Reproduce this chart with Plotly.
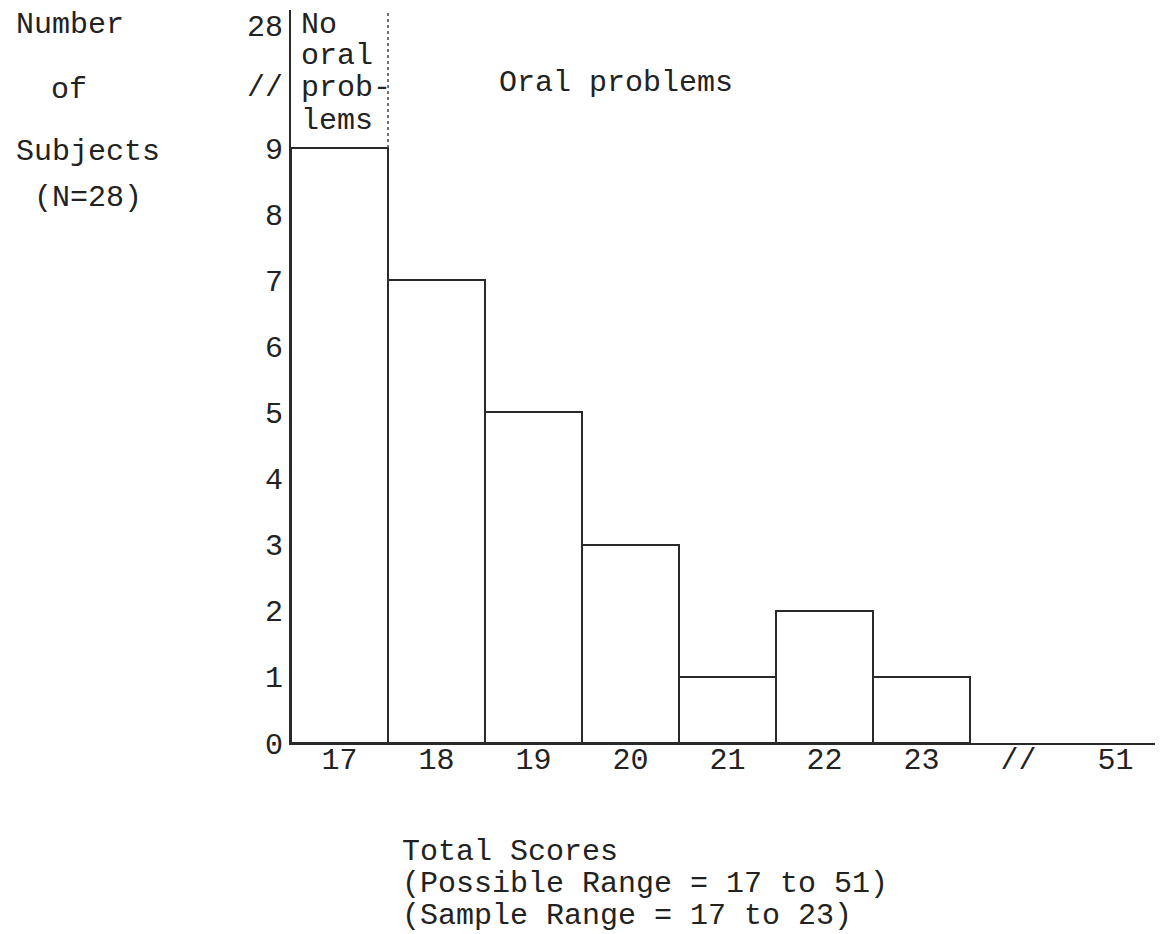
import plotly.graph_objects as go

# ---- data ----
categories = ["17", "18", "19", "20", "21", "22", "23", "//", "51"]
score_bins = ["17", "18", "19", "20", "21", "22", "23"]
counts = [9, 7, 5, 3, 1, 2, 1]
y_tick_vals = [0, 1, 2, 3, 4, 5, 6, 7, 8, 9, 9.95, 10.85]
y_tick_text = ["0", "1", "2", "3", "4", "5", "6", "7", "8", "9", "//", "28"]
y_title_lines = ["Number", "of", "Subjects", "(N=28)"]
no_oral_lines = ["No", "oral", "prob-", "lems"]
x_title_lines = ["Total Scores", "(Possible Range = 17 to 51)", "(Sample Range = 17 to 23)"]

FONT = "Liberation Mono, Courier New, monospace"
INK = "#222222"
FS = 30

# page body has an 8px margin: build a figure that fills the rest of the window
OFF = 8
WIN_W, WIN_H = 1163, 934
W, H = WIN_W - OFF, WIN_H - OFF
# plot area in window pixels
PL, PT, PR, PB = 291, 10, 1163, 743
L, T, R, B = PL - OFF, PT - OFF, WIN_W - PR, WIN_H - PB
PW, PH = W - L - R, H - T - B

def px(xw):
    return (xw - OFF - L) / PW

def py(yw):
    return (H - B - (yw - OFF)) / PH

fig = go.Figure()
fig.add_trace(go.Bar(
    x=score_bins, y=counts,
    marker=dict(color="white", line=dict(color="#2a2a2a", width=2)),
    width=1.0, showlegend=False, hoverinfo="x+y",
))

def txt_font(size=FS):
    return dict(family=FONT, size=size, color=INK)

annotations = []
for txt, (xc, yc) in zip(y_title_lines, [(70, 25), (69, 90), (88, 152), (88, 198)]):
    annotations.append(dict(x=px(xc), y=py(yc), xref="paper", yref="paper", text=txt,
                            showarrow=False, xanchor="center", yanchor="middle",
                            font=txt_font()))
for txt, yc in zip(no_oral_lines, [25, 56, 88, 121]):
    annotations.append(dict(x=px(299), y=py(yc), xref="paper", yref="paper", text=txt,
                            showarrow=False, xanchor="left", yanchor="middle",
                            font=txt_font()))
annotations.append(dict(x=px(616), y=py(83), xref="paper", yref="paper", text="Oral problems",
                        showarrow=False, xanchor="center", yanchor="middle",
                        font=txt_font()))
for txt, yc in zip(x_title_lines, [852, 884, 916]):
    annotations.append(dict(x=px(400), y=py(yc), xref="paper", yref="paper", text=txt,
                            showarrow=False, xanchor="left", yanchor="middle",
                            font=txt_font()))

fig.update_layout(
    width=W, height=H,
    margin=dict(l=L, r=R, t=T, b=B, autoexpand=False),
    paper_bgcolor="white", plot_bgcolor="white",
    bargap=0,
    font=txt_font(),
    annotations=annotations,
    shapes=[dict(type="line", xref="x", yref="y", x0=0.5, x1=0.5, y0=9, y1=11.1,
                 line=dict(color="#444444", width=1.5, dash="dot"))],
    xaxis=dict(type="category", categoryorder="array", categoryarray=categories,
               tickvals=categories, ticktext=categories,
               range=[-0.5, -0.5 + (PR - PL) / 97.0], showline=True, linecolor="#2a2a2a",
               linewidth=2, showgrid=False, zeroline=False, ticks="", fixedrange=True,
               automargin=False, ticklabelstandoff=-12, tickfont=txt_font()),
    yaxis=dict(range=[0, (PB - PT) / ((PB - 148) / 9)], tickvals=y_tick_vals, ticktext=y_tick_text,
               showline=True, linecolor="#2a2a2a", linewidth=2, showgrid=False,
               zeroline=False, ticks="", fixedrange=True, automargin=False,
               ticklabeloverflow="allow", tickfont=txt_font()),
)

fig.write_html("out.html")
